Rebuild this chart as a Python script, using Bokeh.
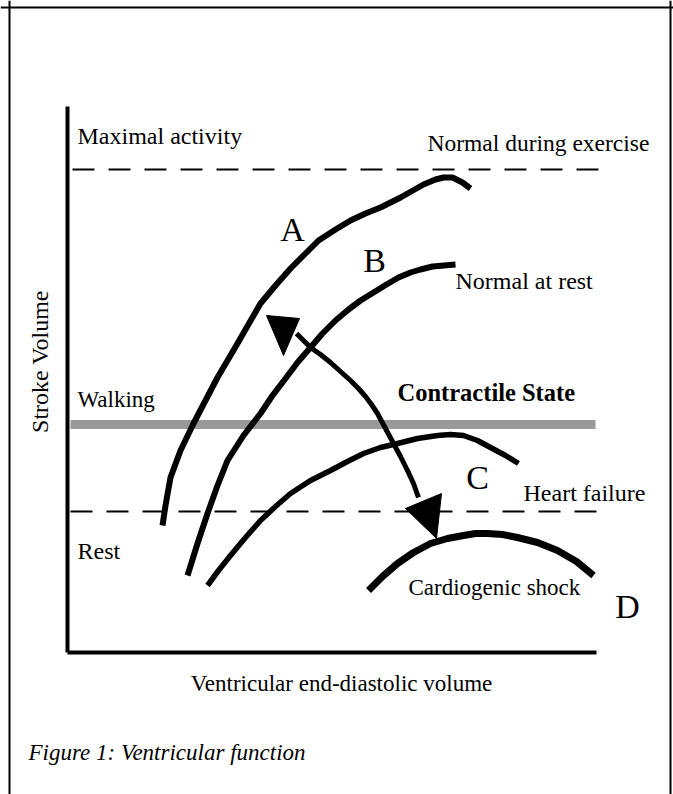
from math import pi
from bokeh.plotting import figure
from bokeh.models import Range1d, Span
from bokeh.core.properties import value
from bokeh.embed import file_html
from bokeh.resources import INLINE

# ---- data (arbitrary units: x = ventricular end-diastolic volume, y = stroke volume) ----
# Frank-Starling curves
curve_a_x = [95, 98, 103, 113, 126, 138, 150, 170, 193, 208, 223, 238, 251, 268, 283, 298,
             313, 333, 356, 368, 376, 385, 395, 403]
curve_a_y = [127, 147, 175, 202, 229, 252, 275, 309, 349, 367, 384, 399, 412, 423, 432, 439,
             445, 455, 468, 473, 475, 475, 470, 464]

curve_b_x = [120, 130, 140, 150, 160, 176, 193, 205, 218, 230, 243, 255, 268, 281, 293, 306,
             319, 331, 343, 353, 365, 388]
curve_b_y = [77, 109, 139, 167, 192, 217, 239, 257, 274, 290, 305, 319, 332, 343, 352, 360,
             368, 375, 380, 383, 386, 388]

curve_c_x = [140, 151, 163, 178, 193, 208, 223, 243, 263, 280, 296, 313, 330, 350, 370, 383,
             396, 410, 423, 438, 451]
curve_c_y = [67, 82, 97, 115, 132, 146, 159, 172, 182, 191, 199, 205, 209, 214, 217, 218,
             217, 212, 205, 197, 189]

curve_d_x = [301, 315, 330, 346, 363, 380, 396, 408, 420, 435, 450, 470, 490, 509, 526]
curve_d_y = [62, 76, 89, 100, 109, 114, 117, 119, 119, 118, 115, 110, 102, 91, 77]

# contractile-state double arrow
arrow_x = [229, 243, 253, 263, 273, 283, 291, 298, 304, 310, 318, 326, 333, 340, 346, 351]
arrow_y = [319, 305, 298, 290, 281, 272, 264, 256, 248, 239, 224, 209, 196, 182, 169, 155]
head_up_x = [199, 232, 216]
head_up_y = [337, 334, 297]
head_down_x = [338, 374, 369]
head_down_y = [144, 159, 114]

# activity levels
maximal_y = 483
walking_y = 228
rest_y = 141
axis_x_max = 529
axis_y_max = 546

p = figure(width=673, height=794,
           x_range=Range1d(-67, 606), y_range=Range1d(-142, 652),
           output_backend="svg", toolbar_location=None, min_border=0)
p.axis.visible = False
p.grid.visible = False
p.outline_line_color = None
p.background_fill_color = "white"
p.border_fill_color = "white"

# page border (left, top, right)
p.add_layout(Span(location=-58, dimension="height", line_color="black", line_width=2))
p.add_layout(Span(location=603, dimension="height", line_color="black", line_width=2))
p.add_layout(Span(location=645, dimension="width", line_color="black", line_width=2))

# axes
p.line([0, 0], [0, axis_y_max], line_color="black", line_width=4)
p.line([0, axis_x_max], [0, 0], line_color="black", line_width=4)

# activity reference lines
p.line([5, 534], [maximal_y, maximal_y], line_color="black", line_width=2, line_dash="22 14")
p.line([3, 528], [walking_y, walking_y], line_color="#999999", line_width=9)
p.line([3, 529], [rest_y, rest_y], line_color="black", line_width=2, line_dash="22 14")

# curves
for cx, cy, w in [(curve_a_x, curve_a_y, 6), (curve_b_x, curve_b_y, 6),
                  (curve_c_x, curve_c_y, 5.5), (curve_d_x, curve_d_y, 7)]:
    p.line(cx, cy, line_color="black", line_width=w, line_join="round")

p.line(arrow_x, arrow_y, line_color="black", line_width=5, line_join="round")
p.patch(head_up_x, head_up_y, fill_color="black", line_color="black", line_width=1)
p.patch(head_down_x, head_down_y, fill_color="black", line_color="black", line_width=1)

FONT = value("Liberation Serif")

def label(x, y, txt, size="23px", align="left", style="normal", angle=0):
    p.text(x=[x], y=[y], text=[txt], text_font=FONT, text_font_size=size,
           text_align=align, text_baseline="alphabetic", text_font_style=style,
           text_color="black", angle=angle)

label(10, 517, "Maximal activity", "24px")
label(360, 510, "Normal during exercise", "23.5px")
label(225, 423, "A", "34px", align="center")
label(307, 392, "B", "34px", align="center")
label(388, 372, "Normal at rest", "24px")
label(10, 253, "Walking", "23px")
label(330, 260, "Contractile State", "24.5px", style="bold")
label(410, 175, "C", "34px", align="center")
label(456, 160, "Heart failure", "24px")
label(10, 102, "Rest", "24px")
label(341, 65, "Cardiogenic shock", "23px")
label(560, 46, "D", "34px", align="center")
label(274, -31, "Ventricular end-diastolic volume", "23px", align="center")
label(-39, -100, "Figure 1: Ventricular function", "23px", style="italic")
label(-28, 291, "Stroke Volume", "24px", align="center", angle=pi / 2)

open("out.html", "w").write(file_html(p, INLINE))
